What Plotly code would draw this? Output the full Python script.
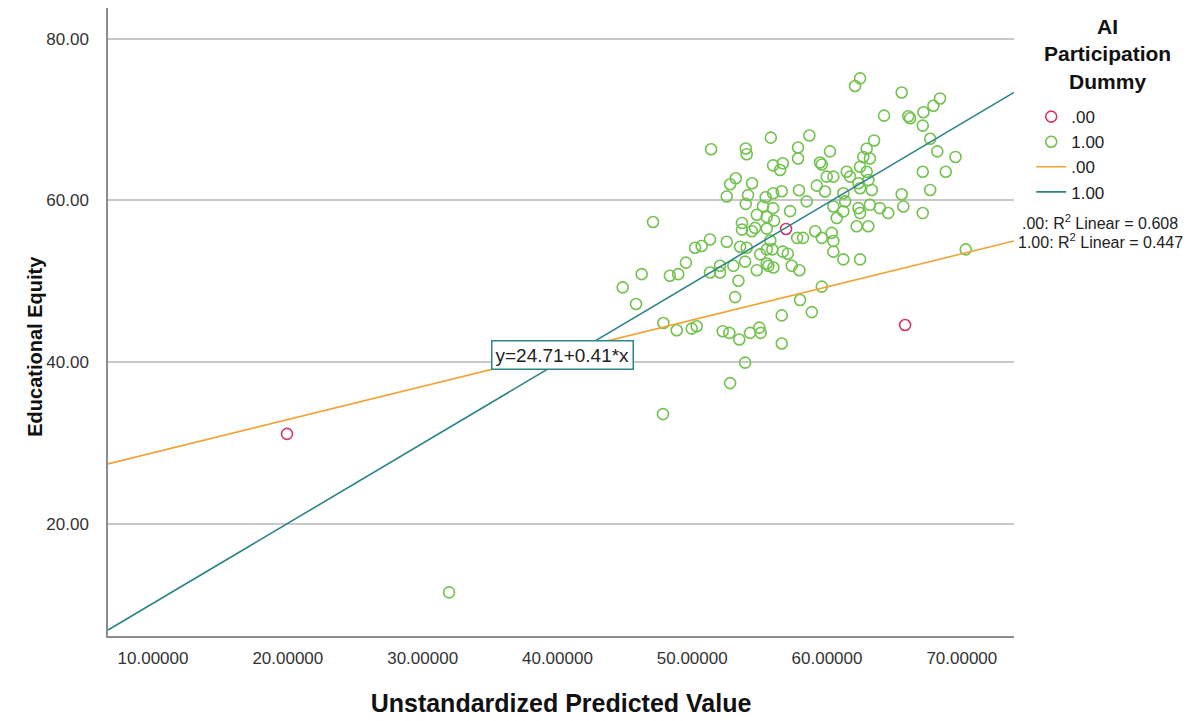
import plotly.graph_objects as go

# ---- data ----
group_labels = [".00", "1.00"]
legend_title = "AI<br>Participation<br>Dummy"

red_x = [19.94, 56.96, 65.79]
red_y = [31.14, 56.48, 44.60]

green_x = [55.83, 51.40, 53.97, 54.04, 57.85, 56.00, 56.72, 56.52, 57.85, 53.23,
           52.81, 54.44, 52.56, 54.14, 53.97, 55.45, 56.00, 56.64, 57.92, 55.25,
           56.00, 57.26, 54.79, 55.53, 56.07, 47.09, 53.69, 53.69, 54.42, 54.66,
           55.53, 57.78, 58.22, 51.32, 50.70, 50.21, 52.56, 53.55, 54.04, 55.79,
           55.94, 56.72, 57.09, 55.04, 55.53, 62.45, 62.08, 65.54, 68.38, 67.89,
           67.15, 64.23, 66.03, 66.16, 67.10, 58.69, 63.49, 67.65, 60.22, 62.94,
           62.69, 63.18, 68.18, 69.53, 59.48, 59.61, 62.45, 62.94, 61.46, 61.71,
           59.98, 60.47, 63.07, 63.32, 62.33, 62.45, 67.10, 68.81, 59.24, 59.85,
           61.21, 61.34, 67.65, 65.54, 58.49, 60.47, 60.72, 61.21, 62.33, 62.45,
           63.18, 63.92, 64.54, 65.66, 67.10, 62.20, 63.06, 59.12, 59.61, 60.35,
           60.47, 70.29, 60.47, 62.45, 61.21, 46.25, 48.34, 48.96, 49.53, 51.32,
           52.06, 52.06, 53.05, 53.92, 54.79, 55.53, 55.65, 56.02, 57.38, 57.95,
           53.43, 53.18, 59.61, 58.00, 56.64, 58.87, 47.86, 48.85, 49.96, 50.33,
           52.26, 52.75, 53.49, 54.29, 54.98, 55.08, 56.64, 53.92, 52.81, 45.83,
           44.84, 47.83, 31.96]
green_y = [67.77, 66.33, 66.42, 65.72, 66.54, 64.34, 64.59, 63.77, 65.18, 62.74,
           62.00, 62.13, 60.49, 60.66, 59.58, 60.40, 60.89, 61.14, 61.26, 59.30,
           59.05, 58.68, 58.23, 57.95, 57.50, 57.34, 57.22, 56.40, 56.20, 56.61,
           56.52, 55.38, 55.38, 55.17, 54.37, 54.16, 54.89, 54.28, 54.16, 55.05,
           53.95, 53.67, 53.42, 53.34, 53.95, 75.09, 74.15, 73.34, 72.61, 71.71,
           70.90, 70.48, 70.41, 70.16, 69.25, 68.03, 67.42, 67.63, 66.07, 66.40,
           65.38, 65.18, 66.07, 65.38, 64.69, 64.44, 64.16, 63.55, 63.55, 62.94,
           62.94, 62.94, 62.52, 61.30, 62.12, 61.51, 63.55, 63.55, 61.83, 61.10,
           60.89, 59.88, 61.30, 60.77, 59.88, 59.26, 57.83, 58.65, 59.05, 58.44,
           59.46, 59.05, 58.44, 59.26, 58.44, 56.81, 56.81, 56.20, 55.38, 55.99,
           54.98, 53.95, 53.67, 52.72, 52.72, 50.89, 50.69, 50.89, 52.32, 51.10,
           51.10, 51.92, 51.92, 52.44, 51.38, 52.20, 51.92, 51.71, 51.92, 51.38,
           50.08, 48.05, 49.35, 47.70, 45.79, 46.20, 44.85, 43.96, 44.15, 44.45,
           43.84, 43.63, 42.81, 43.63, 44.28, 43.63, 42.32, 39.95, 37.42, 47.20,
           49.26, 33.59, 11.55]

# linear fit lines (intercept, slope) and R^2 per group
fit_intercepts = [24.71, 0.31]
fit_slopes = [0.41, 0.989]
r2_values = [0.608, 0.447]

x_ticks = [10, 20, 30, 40, 50, 60, 70]
y_ticks = [20, 40, 60, 80]
x_range = [6.66, 73.87]
y_range = [6.16, 83.79]

# ---- styling ----
FONT = "Arial, Liberation Sans, sans-serif"
RED = "#d2386b"
GREEN = "#72c24e"
ORANGE = "#f0a338"
TEAL = "#2f8486"

fig = go.Figure()

fig.add_trace(go.Scatter(
    x=red_x, y=red_y, mode="markers", name=group_labels[0],
    marker=dict(symbol="circle-open", size=11, color=RED, line=dict(width=1.6, color=RED)),
))
fig.add_trace(go.Scatter(
    x=green_x, y=green_y, mode="markers", name=group_labels[1],
    marker=dict(symbol="circle-open", size=11, color=GREEN, line=dict(width=1.6, color=GREEN)),
))

for label, b0, b1, col in zip(group_labels, fit_intercepts, fit_slopes, [ORANGE, TEAL]):
    fig.add_trace(go.Scatter(
        x=x_range, y=[b0 + b1 * v for v in x_range], mode="lines", name=label,
        line=dict(color=col, width=1.6),
    ))

# equation label on the .00 fit line
fig.add_annotation(
    x=40.34, y=40.93, xref="x", yref="y", showarrow=False,
    text=f"y={fit_intercepts[0]:.2f}+{fit_slopes[0]:.2f}*x",
    font=dict(family=FONT, size=19, color="#222"),
    bgcolor="white", bordercolor=TEAL, borderwidth=1.5, borderpad=3,
)

# legend title (centred, three lines)
fig.add_annotation(
    x=1.1027, y=0.926, xref="paper", yref="paper", showarrow=False,
    xanchor="center", yanchor="middle", align="center",
    text=f"<b>{legend_title}</b>",
    font=dict(family=FONT, size=21, color="#111"),
)

# R^2 text
for i, (label, r2) in enumerate(zip(group_labels, r2_values)):
    fig.add_annotation(
        x=1.095, y=0.659 - 0.030 * i, xref="paper", yref="paper", showarrow=False,
        xanchor="center", yanchor="middle",
        text=f"{label}: R<sup>2</sup> Linear = {r2:.3f}",
        font=dict(family=FONT, size=16, color="#222"),
    )

# y axis title
fig.add_annotation(
    x=-0.0949, y=0.4606, xref="paper", yref="paper", showarrow=False,
    text="<b>Educational Equity</b>", textangle=-90,
    font=dict(family=FONT, size=20, color="#111"),
)

fig.update_layout(
    width=1200, height=721,
    margin=dict(l=108, r=186, t=8, b=79),
    paper_bgcolor="white", plot_bgcolor="white",
    font=dict(family=FONT, color="#222"),
    showlegend=True,
    legend=dict(
        x=1.019, y=0.855, xanchor="left", yanchor="top",
        font=dict(family=FONT, size=17, color="#222"),
        bgcolor="rgba(0,0,0,0)", itemwidth=30, tracegroupgap=0,
    ),
    xaxis=dict(
        range=x_range, tickvals=x_ticks, ticktext=[f"{v:.5f}" for v in x_ticks],
        showgrid=False, zeroline=False, showline=True, linecolor="#8c8c8c", linewidth=1.5,
        ticks="", ticklabelstandoff=6,
        tickfont=dict(family=FONT, size=17, color="#333"),
        title=dict(text="<b>Unstandardized Predicted Value</b>", standoff=27,
                   font=dict(family=FONT, size=25, color="#111")),
    ),
    yaxis=dict(
        range=y_range, tickvals=y_ticks, ticktext=[f"{v:.2f}" for v in y_ticks],
        showgrid=True, gridcolor="#c8c8c8", gridwidth=1.5,
        zeroline=False, showline=True, linecolor="#8c8c8c", linewidth=1.5,
        ticks="", ticklabelstandoff=14,
        tickfont=dict(family=FONT, size=17, color="#333"),
    ),
)

fig.write_html("out.html", config={"displayModeBar": False},
               post_script="document.body.style.margin='0';")
